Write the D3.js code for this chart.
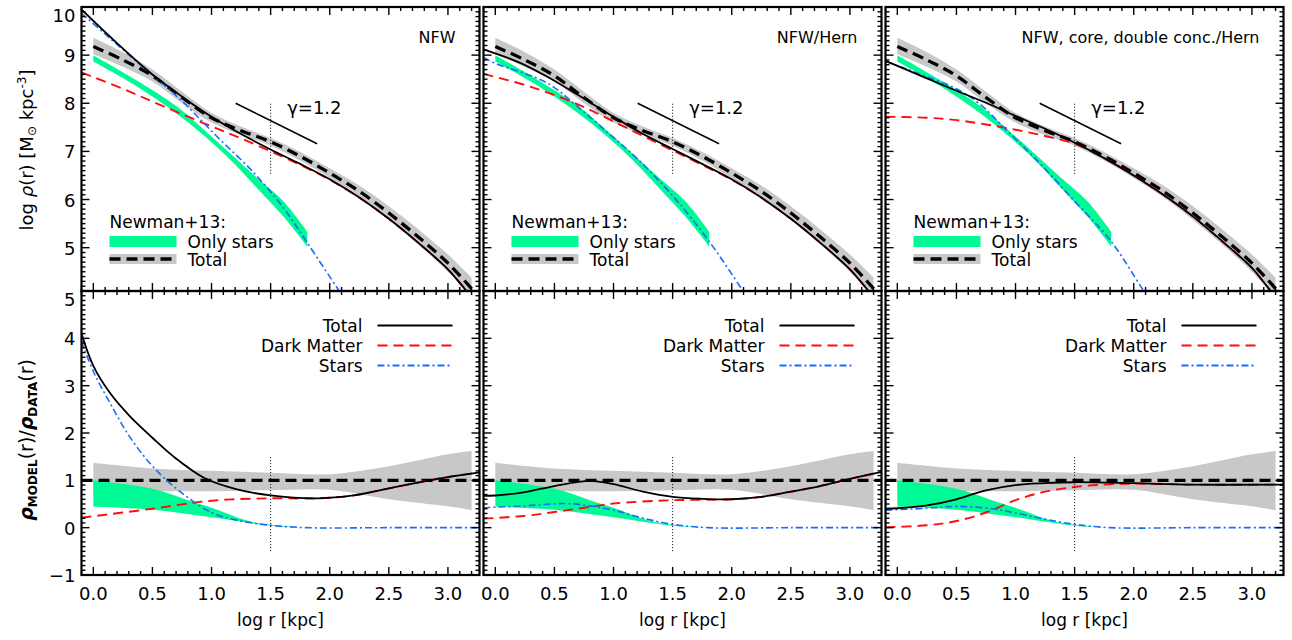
<!DOCTYPE html>
<html><head><meta charset="utf-8">
<script src="https://cdn.jsdelivr.net/npm/d3@7"></script>
<style>body{margin:0;background:#fff}text{font-family:"DejaVu Sans",sans-serif;fill:#000}</style>
</head><body><svg id="c" width="1292" height="640"></svg>
<script>
// ---------- data (log r [kpc], value) ----------
const panelTitles = ["NFW", "NFW/Hern", "NFW, core, double conc./Hern"];
const xTicks = [0.0, 0.5, 1.0, 1.5, 2.0, 2.5, 3.0];
const yTicksTop = [5, 6, 7, 8, 9, 10];
const yTicksBot = [-1, 0, 1, 2, 3, 4, 5];

// Newman+13 data (same in every panel)
const dataTotal   = [[0,9.18],[0.25,8.9],[0.5,8.57],[0.75,8.12],[1.0,7.7],[1.25,7.43],[1.5,7.2],[1.75,6.9],[2.0,6.55],[2.25,6.17],[2.5,5.72],[2.75,5.22],[3.0,4.68],[3.2,4.15]];
const dataTotalHi = [[0,9.36],[0.25,9.06],[0.5,8.7],[0.75,8.24],[1.0,7.8],[1.25,7.52],[1.5,7.28],[1.75,6.99],[2.0,6.65],[2.25,6.29],[2.5,5.86],[2.75,5.38],[3.0,4.86],[3.2,4.38]];
const dataTotalLo = [[0,9.02],[0.25,8.76],[0.5,8.45],[0.75,8.0],[1.0,7.6],[1.25,7.34],[1.5,7.12],[1.75,6.81],[2.0,6.45],[2.25,6.05],[2.5,5.58],[2.75,5.06],[3.0,4.5],[3.2,3.95]];
const starsHi = [[0,9.0],[0.35,8.5],[0.71,7.93],[0.95,7.42],[1.19,6.89],[1.4,6.42],[1.61,5.96],[1.81,5.33]];
const starsLo = [[0,8.87],[0.35,8.38],[0.68,7.83],[0.95,7.3],[1.19,6.75],[1.4,6.2],[1.61,5.64],[1.81,5.02]];
// ratio bands
const ratioGrayHi = [[0,1.37],[0.5,1.25],[1.0,1.2],[1.5,1.16],[2.0,1.13],[2.5,1.3],[3.0,1.55],[3.2,1.62]];
const ratioGrayLo = [[0,0.76],[0.5,0.77],[1.0,0.77],[1.5,0.79],[2.0,0.8],[2.5,0.6],[3.0,0.45],[3.2,0.37]];
const ratioStarsHi = [[0,1.0],[0.5,0.82],[0.8,0.58],[1.0,0.42],[1.3,0.15],[1.5,0.06],[1.8,0.0]];
const ratioStarsLo = [[0,0.44],[0.5,0.38],[1.0,0.22],[1.5,0.04],[1.8,0.0]];

// models: panel 1 (NFW)
const tot1 = [[-0.1,9.95],[0.2,9.25],[0.5,8.6],[0.79,8.07],[1.0,7.72],[1.25,7.36],[1.5,7.04],[1.75,6.74],[2.0,6.42],[2.25,6.04],[2.5,5.6],[2.75,5.1],[3.0,4.55],[3.15,4.12],[3.3,3.65]];
const dm1  = [[-0.1,8.64],[0.25,8.3],[0.59,7.94],[1.0,7.52],[1.25,7.27],[1.5,7.0],[1.75,6.72],[2.0,6.41],[2.25,6.04],[2.5,5.6],[2.75,5.1],[3.0,4.55],[3.15,4.12],[3.3,3.65]];
const st1  = [[-0.1,9.87],[0.34,8.92],[0.74,8.07],[1.05,7.3],[1.36,6.55],[1.61,5.82],[1.81,5.1],[2.08,4.1],[2.2,3.65]];
const rTot1 = [[-0.1,4.1],[0.0,3.42],[0.14,2.85],[0.3,2.38],[0.5,1.9],[0.68,1.5],[0.94,1.05],[1.2,0.82],[1.5,0.68],[1.9,0.62],[2.2,0.68],[2.5,0.83],[2.8,0.98],[3.0,1.07],[3.27,1.17]];
const rDm1  = [[-0.1,0.21],[0.5,0.4],[1.0,0.57],[1.5,0.62],[1.9,0.62],[2.2,0.68],[2.5,0.83],[2.8,0.98],[3.0,1.07],[3.27,1.17]];
const rSt1  = [[-0.1,3.94],[0.0,3.3],[0.14,2.64],[0.3,1.95],[0.5,1.3],[0.74,0.75],[1.0,0.32],[1.25,0.14],[1.5,0.05],[1.8,0.0],[2.5,0.0],[3.27,0.0]];
// panel 2 (NFW/Hern)
const tot2 = [[-0.1,9.12],[0.2,8.85],[0.44,8.55],[0.7,8.17],[1.0,7.72],[1.25,7.36],[1.5,7.05],[1.75,6.74],[2.0,6.42],[2.25,6.04],[2.5,5.6],[2.75,5.1],[3.0,4.55],[3.15,4.12],[3.3,3.65]];
const dm2  = [[-0.1,8.61],[0.25,8.38],[0.5,8.17],[0.75,7.92],[1.0,7.62],[1.25,7.32],[1.5,7.02],[1.75,6.72],[2.0,6.41],[2.25,6.04],[2.5,5.6],[2.75,5.1],[3.0,4.55],[3.15,4.12],[3.3,3.65]];
const st2  = [[-0.1,8.95],[0.0,8.83],[0.44,8.42],[0.72,7.88],[0.97,7.35],[1.2,6.85],[1.5,6.08],[1.8,5.16],[2.09,4.12],[2.2,3.7]];
const rTot2 = [[-0.1,0.67],[0.0,0.68],[0.25,0.75],[0.5,0.88],[0.8,0.99],[1.0,0.92],[1.25,0.76],[1.5,0.65],[1.75,0.61],[2.0,0.6],[2.25,0.65],[2.5,0.76],[2.75,0.88],[3.0,1.03],[3.27,1.18]];
const rDm2  = [[-0.1,0.19],[0.25,0.25],[0.5,0.33],[0.75,0.42],[1.0,0.51],[1.5,0.58],[2.0,0.6],[2.25,0.65],[2.5,0.76],[2.75,0.88],[3.0,1.03],[3.27,1.18]];
const rSt2  = [[-0.1,0.42],[0.3,0.47],[0.6,0.51],[0.8,0.46],[1.0,0.37],[1.25,0.2],[1.5,0.07],[1.8,0.0],[2.5,0.0],[3.27,0.0]];
// panel 3 (NFW, core, double conc./Hern)
const tot3 = [[-0.1,8.88],[0.2,8.57],[0.48,8.28],[0.75,8.01],[0.98,7.76],[1.25,7.47],[1.51,7.17],[1.75,6.86],[2.0,6.5],[2.25,6.1],[2.5,5.65],[2.75,5.13],[3.0,4.58],[3.11,4.25],[3.3,3.65]];
const dm3  = [[-0.1,7.72],[0.25,7.7],[0.5,7.65],[0.75,7.56],[1.0,7.45],[1.25,7.32],[1.5,7.16],[1.75,6.86],[2.0,6.5],[2.25,6.1],[2.5,5.65],[2.75,5.13],[3.0,4.58],[3.11,4.25],[3.3,3.65]];
const st3  = [[-0.1,8.87],[0.2,8.6],[0.5,8.3],[0.7,7.98],[0.9,7.5],[1.18,6.82],[1.49,5.99],[1.8,5.16],[2.08,4.12],[2.2,3.7]];
const rTot3 = [[-0.1,0.4],[0.0,0.41],[0.25,0.47],[0.5,0.6],[0.75,0.79],[1.0,0.9],[1.25,0.94],[1.5,0.96],[2.0,0.94],[2.5,0.91],[3.27,0.91]];
const rDm3  = [[-0.1,0.01],[0.25,0.05],[0.5,0.14],[0.75,0.32],[1.0,0.58],[1.25,0.76],[1.5,0.86],[1.75,0.91],[2.0,0.93],[2.5,0.91],[3.27,0.91]];
const rSt3  = [[-0.1,0.37],[0.25,0.41],[0.5,0.45],[0.8,0.4],[1.0,0.31],[1.25,0.18],[1.5,0.07],[1.8,0.0],[2.5,0.0],[3.27,0.0]];

const models = [
  {tot:tot1, dm:dm1, st:st1, rTot:rTot1, rDm:rDm1, rSt:rSt1},
  {tot:tot2, dm:dm2, st:st2, rTot:rTot2, rDm:rDm2, rSt:rSt2},
  {tot:tot3, dm:dm3, st:st3, rTot:rTot3, rDm:rDm3, rSt:rSt3}
];
const gammaLine = [[1.204,8.0],[1.893,7.16]];
const gammaLabel = "γ=1.2";
const vLineX = 1.5;

// ---------- layout ----------
const svg = d3.select("#c");
const C = {black:"#000", red:"#ff0d0d", blue:"#1a6cff", green:"#00fa96", gray:"#c8c8c8"};
const panelW = 398, x0s = [81.5, 483.5, 885.5];
const topY = [7, 291], botY = [291, 575];
const curve = d3.curveCatmullRom.alpha(0.5);
const DASH_DM = "10,6", DASH_ST = "7,3,2,3", DASH_DATA = "11,6";

function band(g, x, y, hi, lo, fill){
  const ln = d3.line().x(d=>x(d[0])).y(d=>y(d[1])).curve(curve);
  const dHi = ln(hi), dLo = ln(lo.slice().reverse());
  g.append("path").attr("d", dHi + "L" + dLo.slice(1) + "Z").attr("fill", fill).attr("stroke","none");
}
function line(g, x, y, pts, color, w, dash){
  const ln = d3.line().x(d=>x(d[0])).y(d=>y(d[1])).curve(curve);
  const p = g.append("path").attr("d", ln(pts)).attr("fill","none").attr("stroke",color).attr("stroke-width",w);
  if (dash) p.attr("stroke-dasharray", dash);
}
function frame(g, x, y, majors, minorStep, xlab, ylab){
  const [xl,xr] = x.range(), [yb,yt] = y.range();
  const xd = x.domain(), yd = y.domain();
  const tk = (x1,y1,x2,y2,w)=>g.append("line").attr("x1",x1).attr("y1",y1).attr("x2",x2).attr("y2",y2).attr("stroke","#000").attr("stroke-width",w||1);
  for (let v = -0.1; v <= xd[1]+1e-6; v += 0.1){
    const vv = Math.round(v*10)/10, px = x(vv);
    const maj = Math.abs(vv*2 - Math.round(vv*2)) < 1e-6;
    const L = maj ? 8 : 4;
    tk(px, yb, px, yb-L, 1.4); tk(px, yt, px, yt+L, 1.4);
  }
  for (let v = Math.ceil(yd[0]/minorStep)*minorStep; v <= yd[1]+1e-6; v += minorStep){
    const vv = Math.round(v*100)/100, py = y(vv);
    const maj = Math.abs(vv - Math.round(vv)) < 1e-6;
    const L = maj ? 8 : 4;
    tk(xl, py, xl+L, py, 1.4); tk(xr, py, xr-L, py, 1.4);
  }
  g.append("rect").attr("x",xl).attr("y",yt).attr("width",xr-xl).attr("height",yb-yt)
    .attr("fill","none").attr("stroke","#000").attr("stroke-width",2.2);
  if (xlab){
    xTicks.forEach(v=>g.append("text").attr("x",x(v)).attr("y",yb+25).attr("text-anchor","middle").attr("font-size",18).text(v.toFixed(1)));
    g.append("text").attr("x",(xl+xr)/2).attr("y",yb+51).attr("text-anchor","middle").attr("font-size",17).text("log r [kpc]");
  }
  if (ylab){
    majors.forEach(v=>{
      let py = y(v); if (py < yt + 8) py = yt + 8;
      g.append("text").attr("x",xl-6).attr("y",py+7).attr("text-anchor","end").attr("font-size",18).text(v<0?"−"+(-v):v);
    });
  }
}

panelTitles.forEach((title, i)=>{
  const xl = x0s[i], xr = xl + panelW;
  const x = d3.scaleLinear().domain([-0.1, 3.267]).range([xl, xr]);
  const yT = d3.scaleLinear().domain([4.1, 10]).range([topY[1], topY[0]]);
  const yB = d3.scaleLinear().domain([-1, 5]).range([botY[1], botY[0]]);
  const m = models[i];

  const cidT = "ct"+i, cidB = "cb"+i;
  const defs = svg.append("defs");
  defs.append("clipPath").attr("id",cidT).append("rect").attr("x",xl).attr("y",topY[0]).attr("width",panelW).attr("height",topY[1]-topY[0]);
  defs.append("clipPath").attr("id",cidB).append("rect").attr("x",xl).attr("y",botY[0]).attr("width",panelW).attr("height",botY[1]-botY[0]);

  // ---- top panel ----
  const gT = svg.append("g").attr("clip-path","url(#"+cidT+")");
  band(gT, x, yT, dataTotalHi, dataTotalLo, C.gray);
  band(gT, x, yT, starsHi, starsLo, C.green);
  line(gT, x, yT, dataTotal, C.black, 3.3, DASH_DATA);
  line(gT, x, yT, m.dm, C.red, 1.9, DASH_DM);
  line(gT, x, yT, m.st, C.blue, 1.6, DASH_ST);
  line(gT, x, yT, m.tot, C.black, 1.8);
  gT.append("line").attr("x1",x(gammaLine[0][0])).attr("y1",yT(gammaLine[0][1])).attr("x2",x(gammaLine[1][0])).attr("y2",yT(gammaLine[1][1])).attr("stroke","#000").attr("stroke-width",1.5);
  gT.append("line").attr("x1",x(vLineX)).attr("x2",x(vLineX)).attr("y1",yT(7.99)).attr("y2",yT(6.51)).attr("stroke","#000").attr("stroke-width",1).attr("stroke-dasharray","1,2");
  gT.append("text").attr("x",x(1.64)).attr("y",yT(7.78)).attr("font-size",18).text(gammaLabel);
  gT.append("text").attr("x",xr-24).attr("y",43).attr("text-anchor","end").attr("font-size",16).text(title);
  gT.append("text").attr("x",xl+28).attr("y",228).attr("font-size",17).text("Newman+13:");
  gT.append("rect").attr("x",xl+28).attr("y",236).attr("width",67).attr("height",11).attr("fill",C.green);
  gT.append("text").attr("x",xl+106).attr("y",248).attr("font-size",17).text("Only stars");
  gT.append("rect").attr("x",xl+28).attr("y",254).attr("width",67).attr("height",10).attr("fill",C.gray);
  gT.append("line").attr("x1",xl+28).attr("x2",xl+95).attr("y1",259).attr("y2",259).attr("stroke","#000").attr("stroke-width",3.3).attr("stroke-dasharray",DASH_DATA);
  gT.append("text").attr("x",xl+106).attr("y",266).attr("font-size",17).text("Total");
  frame(svg.append("g"), x, yT, yTicksTop, 0.1, false, i===0);

  // ---- bottom panel ----
  const gB = svg.append("g").attr("clip-path","url(#"+cidB+")");
  band(gB, x, yB, ratioGrayHi, ratioGrayLo, C.gray);
  band(gB, x, yB, ratioStarsHi, ratioStarsLo, C.green);
  gB.append("line").attr("x1",xl).attr("x2",xr).attr("y1",yB(1)).attr("y2",yB(1)).attr("stroke","#000").attr("stroke-width",3.3).attr("stroke-dasharray",DASH_DATA);
  line(gB, x, yB, m.rDm, C.red, 1.9, DASH_DM);
  line(gB, x, yB, m.rSt, C.blue, 1.6, DASH_ST);
  line(gB, x, yB, m.rTot, C.black, 1.8);
  gB.append("line").attr("x1",x(vLineX)).attr("x2",x(vLineX)).attr("y1",yB(1.49)).attr("y2",yB(-0.51)).attr("stroke","#000").attr("stroke-width",1).attr("stroke-dasharray","1,2");
  const leg = [["Total",C.black,null],["Dark Matter",C.red,DASH_DM],["Stars",C.blue,DASH_ST]];
  leg.forEach((l,k)=>{
    const yy = 325.5 + k*20;
    gB.append("text").attr("x",xl+281).attr("y",yy+6).attr("text-anchor","end").attr("font-size",17).text(l[0]);
    const ln = gB.append("line").attr("x1",xl+296).attr("x2",xl+371).attr("y1",yy).attr("y2",yy).attr("stroke",l[1]).attr("stroke-width",l[2]?1.9:1.8);
    if (l[2]) ln.attr("stroke-dasharray",l[2]);
  });
  frame(svg.append("g"), x, yB, yTicksBot, 0.1, true, i===0);
});

// y axis titles
const t1 = svg.append("text").attr("transform","translate(33,150) rotate(-90)").attr("text-anchor","middle").attr("font-size",18);
t1.append("tspan").text("log ");
t1.append("tspan").attr("font-style","italic").text("ρ");
t1.append("tspan").text("(r) [M");
t1.append("tspan").attr("font-size",12).attr("dy",3).text("⊙");
t1.append("tspan").attr("dy",-3).text(" kpc");
t1.append("tspan").attr("font-size",12).attr("dy",-7).text("-3");
t1.append("tspan").attr("dy",7).text("]");
const t2 = svg.append("text").attr("transform","translate(33,440) rotate(-90)").attr("text-anchor","middle").attr("font-size",19);
t2.append("tspan").attr("font-style","italic").attr("font-weight","bold").text("ρ");
t2.append("tspan").attr("font-size",12).attr("font-weight","bold").attr("dy",4).text("MODEL");
t2.append("tspan").attr("dy",-4).text("(r)/");
t2.append("tspan").attr("font-style","italic").attr("font-weight","bold").text("ρ");
t2.append("tspan").attr("font-size",12).attr("font-weight","bold").attr("dy",4).text("DATA");
t2.append("tspan").attr("dy",-4).text("(r)");
</script></body></html>
